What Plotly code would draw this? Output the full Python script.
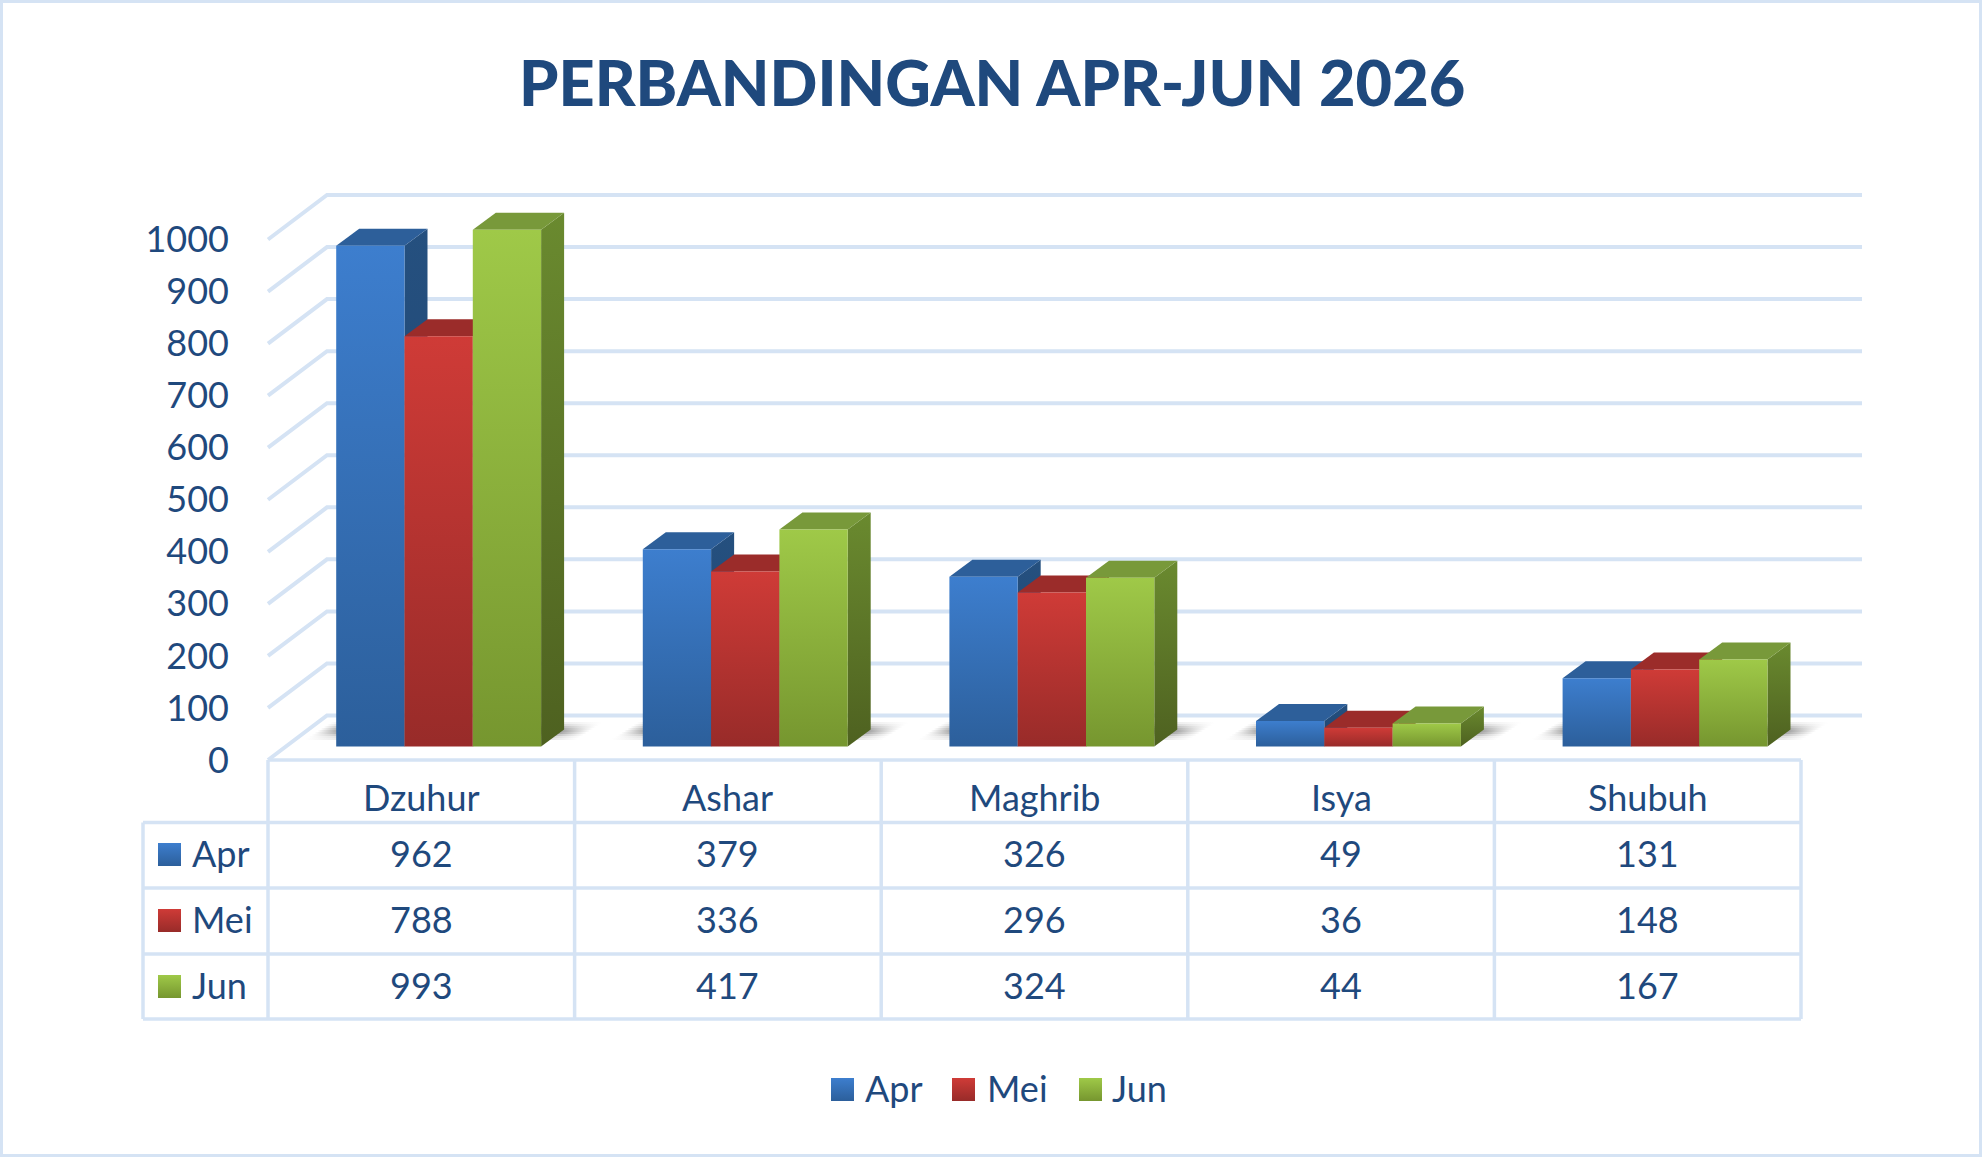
import plotly.graph_objects as go

# Monthly totals per prayer time
categories = ["Dzuhur", "Ashar", "Maghrib", "Isya", "Shubuh"]
apr = [962, 379, 326, 49, 131]
mei = [788, 336, 296, 36, 148]
jun = [993, 417, 324, 44, 167]
months = ["Apr", "Mei", "Jun"]
y_ticks = [0, 100, 200, 300, 400, 500, 600, 700, 800, 900, 1000]

W, H = 1982, 1157
INK = "#1F497D"
RULE = "#D5E3F4"
FONT = "Lato, Carlito, Calibri, sans-serif"
TEXT_SIZE = 36

# Axis scale: one category spans 306.6 px, 100 units span 52.05 px.
PX_PER_CAT = 306.6
PX_PER_UNIT = 0.5205
X0_PX, Y0_PX = 268.0, 760.0


def ux(px):
    return (px - X0_PX) / PX_PER_CAT


def uy(py):
    return (Y0_PX - py) / PX_PER_UNIT


def dx(px):
    return px / PX_PER_CAT


def dy(px):
    return px / PX_PER_UNIT


# Face colours per series: front gradient (bottom, top), cap, side gradient (bottom, top)
styles = {
    "Apr": dict(front=("#2C5F9B", "#3D7ECE"), cap="#2D5F9A", side=("#1F4470", "#25507F")),
    "Mei": dict(front=("#982B29", "#CF3B37"), cap="#9B2C2A", side=("#6E1F1D", "#7F2422")),
    "Jun": dict(front=("#76962F", "#9FC948"), cap="#78993A", side=("#4E6120", "#6A8A2F")),
}
series = dict(zip(months, [apr, mei, jun]))


def polygon(xs, ys, fill=None, gradient=None, scale=None):
    kw = dict(
        x=list(xs) + [xs[0]], y=list(ys) + [ys[0]],
        mode="none", fill="toself", hoverinfo="skip", showlegend=False,
    )
    if scale is not None:
        kw["fillgradient"] = dict(type="horizontal", colorscale=scale)
    elif gradient is not None:
        kw["fillgradient"] = dict(
            type="vertical", colorscale=[[0, gradient[0]], [1, gradient[1]]]
        )
    else:
        kw["fillcolor"] = fill
    return go.Scatter(**kw)


fig = go.Figure()

# Back wall and side wall gridlines
WALL_DX, WALL_DY = dx(59), dy(44.5)
for v in y_ticks:
    fig.add_trace(go.Scatter(
        x=[0, WALL_DX, ux(1862)],
        y=[v, v + WALL_DY, v + WALL_DY],
        mode="lines", line=dict(color=RULE, width=4),
        hoverinfo="skip", showlegend=False,
    ))

BAR_W = dx(68.3)
BAR_START = dx(68.2)
BAR_DX, BAR_DY = dx(23), dy(17)
FLOOR = uy(746.5)

# Soft floor shadow: thin rows whose fades lean with the floor's perspective
SHADOW_TOP_PY = 722
SHADOW_ROW_PX = 2
SHADOW_ALPHA = [0.10, 0.22, 0.38, 0.52, 0.60, 0.55, 0.36, 0.20, 0.14]


def shade(alpha):
    return f"rgba(70,70,70,{alpha:.3f})"


for i in range(len(categories)):
    left = i + BAR_START
    right = left + 3 * BAR_W + BAR_DX
    for r, a in enumerate(SHADOW_ALPHA):
        top = SHADOW_TOP_PY + r * SHADOW_ROW_PX
        bottom = top + SHADOW_ROW_PX
        lean = dx((740 - top) * 28 / 18)
        # Right flank, running out from behind the bar's side face
        tail = right + dx(10) + lean
        fig.add_trace(polygon(
            [right - dx(26), tail, tail, right - dx(26)],
            [uy(bottom), uy(bottom), uy(top), uy(top)],
            scale=[[0, shade(a)], [0.35, shade(a)], [1, shade(0)]],
        ))
        # Left flank, running in towards the bar's front face
        head = left - dx(34) + lean
        fig.add_trace(polygon(
            [head, left + dx(2), left + dx(2), head],
            [uy(bottom), uy(bottom), uy(top), uy(top)],
            scale=[[0, shade(0)], [1, shade(a * 0.8)]],
        ))

# Extruded bars: side, cap and front face, series by series so later ones overlap
for i in range(len(categories)):
    for s, name in enumerate(months):
        v = series[name][i]
        st = styles[name]
        x0 = i + BAR_START + s * BAR_W
        x1 = x0 + BAR_W
        y0 = FLOOR
        y1 = FLOOR + v
        fig.add_trace(polygon(
            [x1, x1 + BAR_DX, x1 + BAR_DX, x1],
            [y0, y0 + BAR_DY, y1 + BAR_DY, y1],
            gradient=st["side"],
        ))
        fig.add_trace(polygon(
            [x0, x1, x1 + BAR_DX, x0 + BAR_DX],
            [y1, y1, y1 + BAR_DY, y1 + BAR_DY],
            fill=st["cap"],
        ))
        fig.add_trace(polygon(
            [x0, x1, x1, x0], [y0, y0, y1, y1], gradient=st["front"],
        ))


def swatch(px_left, py_top, name, size=23):
    fig.add_trace(polygon(
        [ux(px_left), ux(px_left + size), ux(px_left + size), ux(px_left)],
        [uy(py_top + size), uy(py_top + size), uy(py_top), uy(py_top)],
        gradient=styles[name]["front"],
    ))


annotations = []


def label(text, px, py, anchor="center", size=TEXT_SIZE, weight="normal"):
    annotations.append(dict(
        text=text,
        x=px / W, y=1 - py / H, xref="paper", yref="paper",
        xanchor=anchor, yanchor="middle", showarrow=False,
        font=dict(family=FONT, size=size, color=INK, weight=weight),
    ))


label("PERBANDINGAN APR-JUN 2026", 991.5, 82, size=63, weight=900)

# Data table under the axis
ROW_LINES = [822.5, 888, 954, 1019]
ROW_TEXT = [853, 919, 985]
TABLE_LEFT = 143
shapes = []


def rule(x0, y0, x1, y1):
    shapes.append(dict(
        type="line", xref="paper", yref="paper",
        x0=x0 / W, x1=x1 / W, y0=1 - y0 / H, y1=1 - y1 / H,
        line=dict(color=RULE, width=3.5),
    ))


rule(X0_PX, Y0_PX, X0_PX + 5 * PX_PER_CAT, Y0_PX)
for py in ROW_LINES:
    rule(TABLE_LEFT, py, X0_PX + 5 * PX_PER_CAT, py)
rule(TABLE_LEFT, ROW_LINES[0], TABLE_LEFT, ROW_LINES[-1])
for i in range(len(categories) + 1):
    px = X0_PX + i * PX_PER_CAT
    rule(px, Y0_PX, px, ROW_LINES[-1])

for i, cat in enumerate(categories):
    cx = X0_PX + (i + 0.5) * PX_PER_CAT
    label(cat, cx, 797)
    for s, name in enumerate(months):
        label(str(series[name][i]), cx, ROW_TEXT[s])

for s, name in enumerate(months):
    swatch(158, ROW_TEXT[s] - 10, name)
    label(name, 190, ROW_TEXT[s], anchor="left")

# Legend below the table
LEGEND_ITEMS = [(831, 863), (952, 985), (1079, 1110)]
for name, (sw_x, tx_x) in zip(months, LEGEND_ITEMS):
    swatch(sw_x, 1078, name)
    label(name, tx_x, 1088, anchor="left")

# Chart frame
shapes.append(dict(
    type="rect", xref="paper", yref="paper",
    x0=1.5 / W, x1=(W - 1.5) / W, y0=1.5 / H, y1=1 - 1.5 / H,
    line=dict(color=RULE, width=3), fillcolor="rgba(0,0,0,0)",
))

fig.update_layout(
    width=W, height=H, autosize=False,
    margin=dict(l=0, r=0, t=0, b=0, pad=0),
    paper_bgcolor="white", plot_bgcolor="white",
    showlegend=False, annotations=annotations, shapes=shapes,
    font=dict(family=FONT, color=INK, size=TEXT_SIZE),
    xaxis=dict(range=[ux(0), ux(W)], visible=False, fixedrange=True),
    yaxis=dict(
        range=[uy(H), uy(0)], anchor="free", position=X0_PX / W,
        tickmode="array", tickvals=y_ticks, ticktext=[str(v) for v in y_ticks],
        showgrid=False, zeroline=False, showline=False, ticks="",
        ticklabelstandoff=39, fixedrange=True,
        tickfont=dict(family=FONT, size=TEXT_SIZE, color=INK),
    ),
)

fig.write_html("out.html", config=dict(displayModeBar=False))
